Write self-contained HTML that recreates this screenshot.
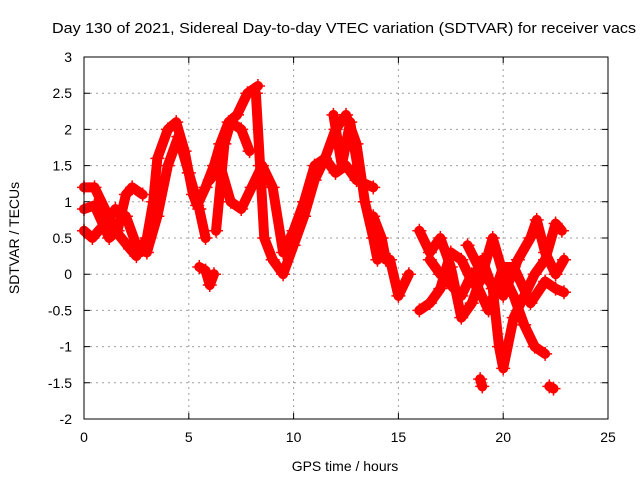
<!DOCTYPE html>
<html><head><meta charset="utf-8"><style>
body{margin:0;background:#fff}
svg{display:block;font-family:"Liberation Sans",sans-serif;font-size:14px}
</style></head><body>
<svg id="chart" width="640" height="480">
<text x="52" y="33" textLength="584" lengthAdjust="spacingAndGlyphs" style="font-size:15px">Day 130 of 2021, Sidereal Day-to-day VTEC variation (SDTVAR) for receiver vacs</text>
<g id="grid"></g>
<g id="ticks"></g>
<g id="series"></g>
<rect x="84" y="57" width="524" height="362" fill="none" stroke="#000"/>
<text x="345" y="471" text-anchor="middle">GPS time / hours</text>
<text transform="translate(19,238) rotate(-90)" text-anchor="middle">SDTVAR / TECUs</text>
</svg>
<script>
const xTicks=[0,5,10,15,20,25];
const yTicks=[-2,-1.5,-1,-0.5,0,0.5,1,1.5,2,2.5,3];
const yTickLabels=["-2","-1.5","-1","-0.5","0","0.5","1","1.5","2","2.5","3"];
const trackA_t=[0,0.5,1,1.5,2.2,2.5,3,3.3,3.5,4,4.4,4.8,5.2,5.4,5.8,6.2,6.5,6.9,7.3,7.8,8.3];
const trackA_v=[1.2,1.2,0.9,0.6,0.35,0.25,0.5,1.0,1.6,2.0,2.1,1.7,1.1,0.95,1.2,1.5,1.8,2.1,2.2,2.5,2.6];
const trackB_t=[0,0.5,1.2,1.6,2,2.3,2.8];
const trackB_v=[0.9,0.95,0.5,0.6,1.1,1.2,1.1];
const trackC_t=[0,0.4,1,1.5,2,2.5,3,3.5,4,4.5,5,5.5,5.8];
const trackC_v=[0.6,0.5,0.7,0.9,0.8,0.4,0.3,0.8,1.5,1.9,1.4,0.9,0.5];
const trackD_t=[5.5,5.8,6.0,6.2];
const trackD_v=[0.1,0.05,-0.15,0.0];
const trackE_t=[6,6.5,7,7.5,8,8.5,9,9.5,10,10.5,11,11.5,12,12.5,13,13.8];
const trackE_v=[1.3,1.5,1.0,0.9,1.2,1.5,1.2,0.3,0.6,1.0,1.5,1.6,1.4,1.5,1.3,1.2];
const trackF_t=[6.3,6.7,7,7.5,7.9];
const trackF_v=[0.6,1.8,2.1,2.0,1.7];
const trackG_t=[8.2,8.4,8.6,9,9.5,10,10.5,11,11.5,12,12.5,13,13.4,13.8,14];
const trackG_v=[2.5,1.5,0.5,0.2,0,0.4,0.8,1.3,1.6,2.0,2.2,1.8,1.0,0.5,0.2];
const trackH_t=[11.9,12.3,12.7,13.1];
const trackH_v=[2.2,1.5,2.1,1.4];
const trackI_t=[13.8,14.2,14.4,14.6,15,15.5];
const trackI_v=[0.8,0.5,0.2,0.2,-0.3,0.0];
const trackJ_t=[16,16.5,17,17.5,18,18.5,19,19.5,20,20.5,21,21.5,22];
const trackJ_v=[0.6,0.3,0.5,0.1,-0.6,-0.4,0,0.5,0,-0.3,-0.7,-1.0,-1.1];
const trackK_t=[16,16.5,17,17.5,18,18.5,19,19.5,19.8,20,20.5,21,21.5,22,22.5,22.8];
const trackK_v=[-0.5,-0.4,-0.2,0.3,0.2,-0.1,0.2,-0.2,-1.0,-1.3,-0.6,-0.3,0,0.2,0.7,0.6];
const trackL_t=[16.5,17,18,18.5,19.3,20,20.5,21.3,22,22.5,22.9];
const trackL_v=[0.2,0,-0.3,0,-0.5,0.1,0.1,-0.4,-0.1,-0.2,-0.25];
const trackM_t=[18.3,19,20,20.7,21.3,21.6,22,22.5,22.9];
const trackM_v=[0.4,0,-0.3,0.2,0.5,0.75,0.3,0,0.2];
const trackN_t=[18.9,19.0];
const trackN_v=[-1.45,-1.55];
const trackO_t=[22.2,22.4];
const trackO_v=[-1.55,-1.58];
const tracks=[[trackA_t,trackA_v],[trackB_t,trackB_v],[trackC_t,trackC_v],[trackD_t,trackD_v],[trackE_t,trackE_v],[trackF_t,trackF_v],[trackG_t,trackG_v],[trackH_t,trackH_v],[trackI_t,trackI_v],[trackJ_t,trackJ_v],[trackK_t,trackK_v],[trackL_t,trackL_v],[trackM_t,trackM_v],[trackN_t,trackN_v],[trackO_t,trackO_v]];
const NS="http://www.w3.org/2000/svg";
function xs(t){return 84+t/25*524;}
function ys(v){return 419-(v+2)/5*362;}
function mk(tag,attrs,parent){const e=document.createElementNS(NS,tag);for(const k in attrs)e.setAttribute(k,attrs[k]);parent.appendChild(e);return e;}
const grid=document.getElementById('grid'),ticks=document.getElementById('ticks'),series=document.getElementById('series');
xTicks.forEach(t=>{const x=xs(t);
 if(t>0&&t<25){const g=mk('line',{x1:x,x2:x,y1:57,y2:419,stroke:'#a0a0a0','stroke-dasharray':'2,4'},grid);
 
 }
 const tk=mk('path',{d:`M${x},419v-6M${x},57v6`,stroke:'#000'},ticks);
 
 
 const lb=mk('text',{x:x,y:442,'text-anchor':'middle'},ticks);lb.textContent=t;
 
 });
yTicks.forEach((v,i)=>{const y=ys(v);
 if(v>-2&&v<3){const g=mk('line',{x1:84,x2:608,y1:y,y2:y,stroke:'#a0a0a0','stroke-dasharray':'2,4'},grid);
 
 }
 const tk=mk('path',{d:`M84,${y}h6M608,${y}h-6`,stroke:'#000'},ticks);
 
 
 const lb=mk('text',{x:72,y:y+5,'text-anchor':'end'},ticks);lb.textContent=yTickLabels[i];
 
 });
tracks.forEach(([T,V])=>{
 const pts=T.map((t,i)=>xs(t)+','+ys(V[i])).join(' ');
 const pl=mk('polyline',{points:pts,fill:'none',stroke:'#f00','stroke-width':10,'stroke-linejoin':'round','stroke-linecap':'round'},series);
 
 
 T.forEach((t,i)=>{const x=xs(t),y=ys(V[i]);
  const p=mk('path',{d:`M${x-7},${y}h14M${x},${y-7}v14`,stroke:'#f00','stroke-width':1.5},series);
  
  });
});
</script>
</body></html>
